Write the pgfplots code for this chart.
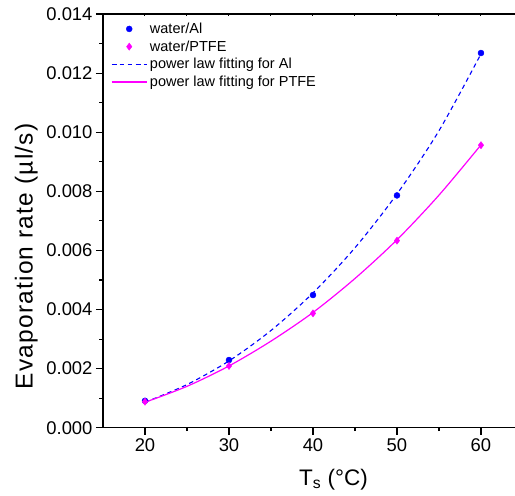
\documentclass[border=0pt]{standalone}
\usepackage{pgfplots}
\pgfplotsset{compat=1.18}
\usepackage{fontspec}
\setmainfont{Liberation Sans}
\newfontfamily\ylabfont[LetterSpace=5]{Liberation Sans}
\definecolor{alblue}{RGB}{0,0,255}
\definecolor{ptfemag}{RGB}{255,0,255}
\begin{document}
\begin{tikzpicture}
\begin{axis}[
  scale only axis, width=412pt, height=413.7pt,
  xmin=15, xmax=64.05, ymin=0, ymax=0.014,
  axis x line=box, axis y line=left,
  axis line style={-, line width=1.2pt},
  every outer y axis line/.append style={-},
  every inner y axis line/.append style={-},
  xtick={20,30,40,50,60}, minor xtick={25,35,45,55},
  ytick={0,0.002,0.004,0.006,0.008,0.010,0.012,0.014},
  minor ytick={0.001,0.003,0.005,0.007,0.009,0.011,0.013},
  tick pos=left, tick align=outside,
  major tick length=7pt, minor tick length=3.5pt,
  every tick/.style={line width=1.1pt, black},
  /pgf/number format/assume math mode=true,
  ticklabel style={font=\fontsize{18.4}{20}\selectfont},
  scaled y ticks=false,
  yticklabel style={/pgf/number format/.cd, fixed, fixed zerofill, precision=3},
  xlabel={T\textsubscript{s} (°C)},
  xlabel style={font=\fontsize{22.5}{24}\selectfont, at={(axis description cs:0.5595,-0.1402)}, anchor=base},
  ylabel={\ylabfont Evaporation rate (µl/s)},
  ylabel style={font=\fontsize{24.5}{26}\selectfont, at={(axis description cs:-0.1706,0.414)}, anchor=base, rotate=0},
  legend image code/.code={\draw[mark repeat=2,mark phase=2,#1] plot coordinates {(0pt,0pt) (17.5pt,0pt) (35pt,0pt)};},
  legend style={at={(0.012,0.99)}, anchor=north west, draw=none, fill=none,
    font=\fontsize{14.5}{16}\selectfont, row sep=0.5pt,
    nodes={inner sep=2.6pt}},
  legend cell align=left,
]
\addplot[only marks, mark=*, mark size=3pt, color=alblue] coordinates {
  (20,0.00091) (30,0.00229) (40,0.00449) (50,0.00786) (60,0.01268)};
\addlegendentry{water/Al}
\addplot[only marks, mark=diamond*, mark size=3.6pt, color=ptfemag] coordinates {
  (20,0.00088) (30,0.00209) (40,0.00387) (50,0.00633) (60,0.00956)};
\addlegendentry{water/PTFE}
\addplot[no marks, smooth, color=alblue, line width=1.1pt, dash pattern=on 4.5pt off 3.5pt] coordinates {
  (20,0.00086) (25,0.00146) (30,0.00226) (35,0.00329) (40,0.00456)
  (45,0.00609) (50,0.00791) (55,0.01005) (60,0.01265)};
\addlegendentry{power law fitting for Al}
\addplot[no marks, smooth, color=ptfemag, line width=1.2pt] coordinates {
  (20,0.00086) (25,0.00140) (30,0.00209) (35,0.00293) (40,0.00390)
  (45,0.00505) (50,0.00636) (55,0.00787) (60,0.00957)};
\addlegendentry{power law fitting for PTFE}
\end{axis}
\begin{axis}[
  scale only axis, width=412pt, height=413.7pt,
  xmin=15, xmax=64.05, ymin=0, ymax=0.014,
  axis x line*=top, axis y line=none,
  axis line style={draw=none},
  xtick={20,25,30,35,40,45,50,55,60}, xticklabels={},
  tick align=inside, major tick length=2.5pt,
  every tick/.style={line width=1pt, black},
]
\end{axis}
\pgfresetboundingbox
\path[use as bounding box] (-103pt,-68.3pt) rectangle (412pt,427.7pt);
\end{tikzpicture}
\end{document}
